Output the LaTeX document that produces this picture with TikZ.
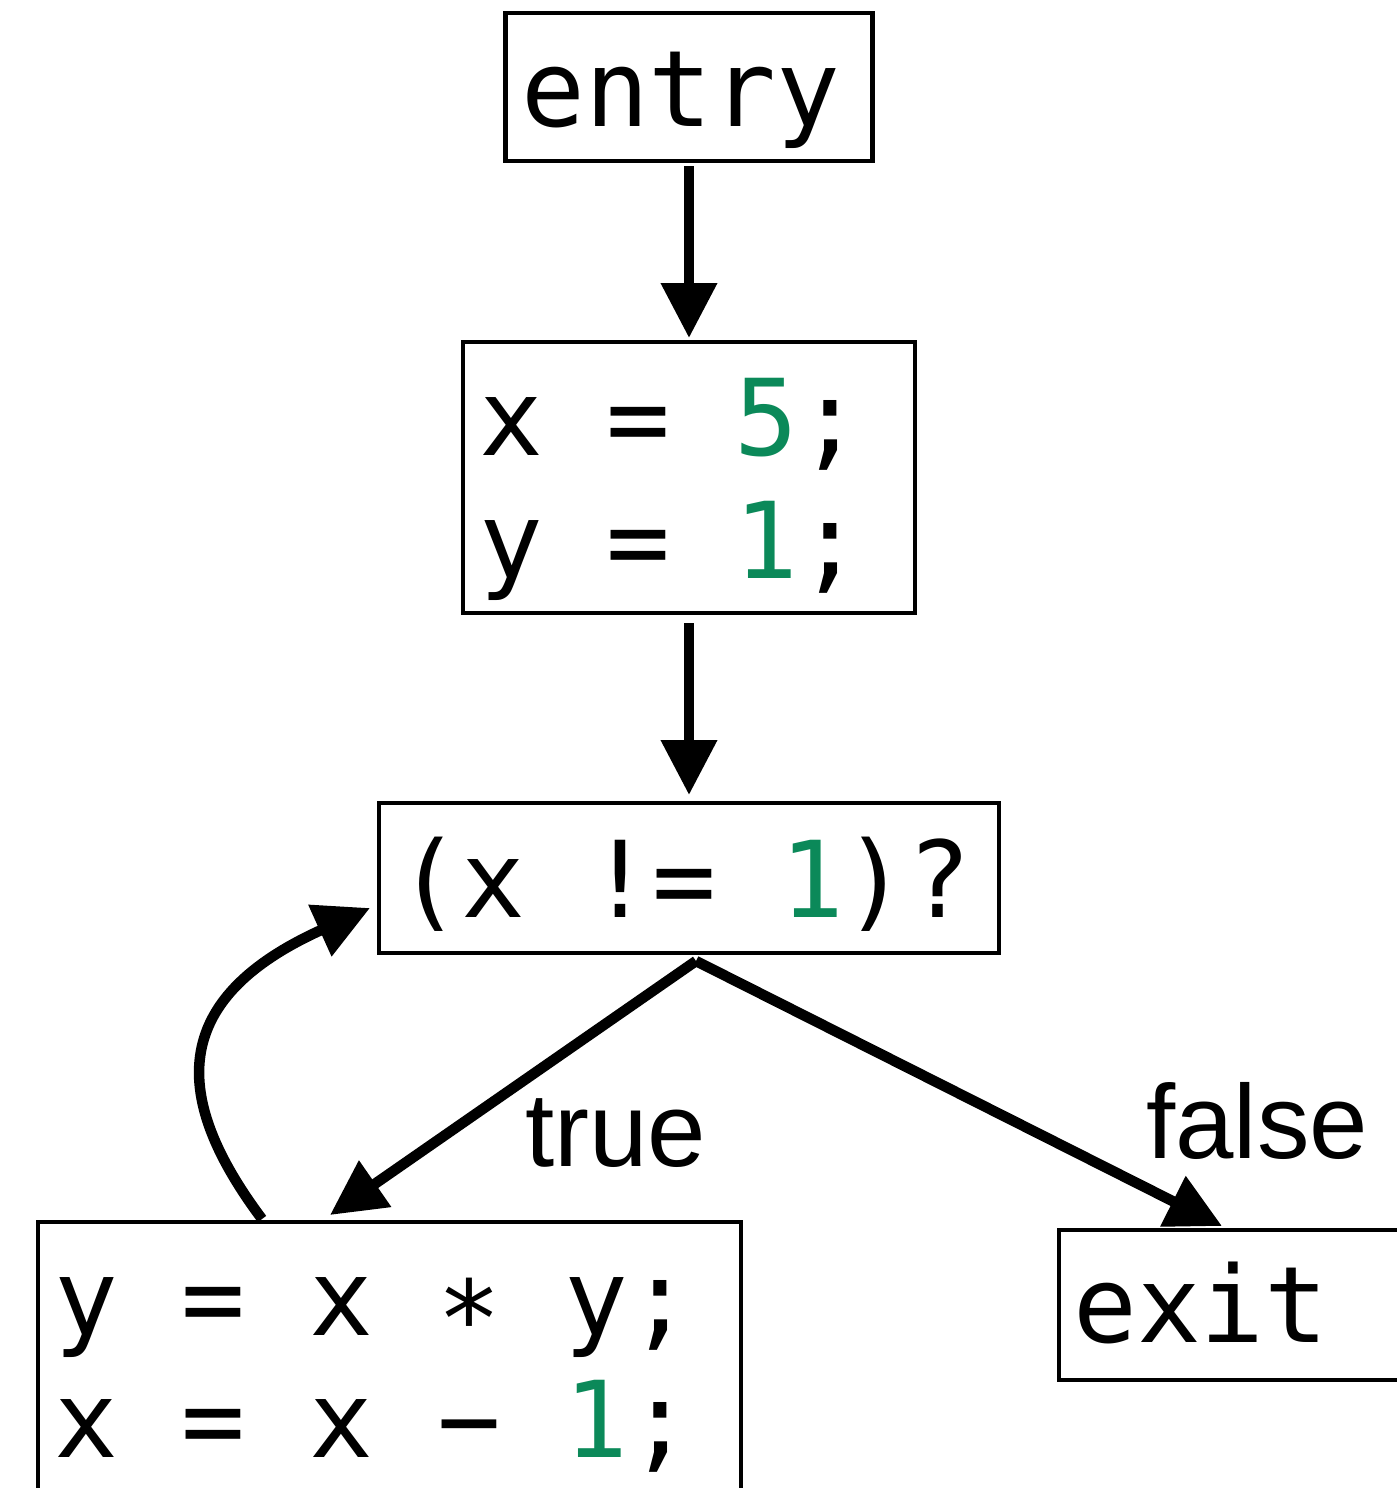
\documentclass[tikz,border=0pt]{standalone}
\usepackage{fontspec}
\setmainfont{Liberation Sans}
\newfontfamily\codefont{DejaVu Sans Mono}
\usetikzlibrary{arrows.meta}
\definecolor{codegreen}{RGB}{11,137,89}
\newcommand{\gr}[1]{\textcolor{codegreen}{#1}}
\begin{document}
\begin{tikzpicture}[x=1pt,y=-1pt,
  box/.style={draw, line width=4.5pt, inner sep=0pt, outer sep=0pt},
  code/.style={font=\codefont\fontsize{106}{123}\selectfont, inner sep=0pt, anchor=base west},
  lbl/.style={font=\fontsize{105}{120}\selectfont, inner sep=0pt, anchor=base west},
  flow/.style={line width=10.5pt, -{Triangle[length=55pt,width=54pt]}}]
\clip (0,0) rectangle (1397,1488);
\useasboundingbox (0,0) rectangle (1397,1488);
% boxes
\node[box, minimum width=367pt, minimum height=148pt] (entry) at (689,87) {};
\node[box, minimum width=452pt, minimum height=271pt] (assign) at (689,477.5) {};
\node[box, minimum width=620pt, minimum height=150pt] (cond) at (689,878) {};
\node[box, minimum width=703pt, minimum height=308pt] (body) at (389.5,1376) {};
\node[box, minimum width=371pt, minimum height=150pt] (exit) at (1244.5,1305) {};
% texts
\node[code] (t1) at (521,126) {entry};
\node[code] (t2) at (479,455) {x = \gr{5};};
\node[code] (t3) at (479,578) {y = \gr{1};};
\node[code] (t4) at (397,917) {(x != \gr{1})?};
\node[code] (t5) at (54,1335) {y = x ∗ y;};
\node[code] (t6) at (54,1457) {x = x − \gr{1};};
\node[code] (t7) at (1073,1342) {exit};
% connectors
\coordinate (split) at ([xshift=7pt,yshift=-8pt]cond.south);
\coordinate (loopstart) at ([xshift=224pt,yshift=3pt]body.north west);
\coordinate (loopend) at ([xshift=-9pt,yshift=-30pt]cond.west);
\draw[flow] ([yshift=-5pt]entry.south) -- ([yshift=4pt]assign.north);
\draw[flow] ([yshift=-10pt]assign.south) -- ([yshift=8pt]cond.north);
\draw[flow] (split) -- ([xshift=-59.5pt,yshift=7pt]body.north);
\draw[flow] (split) -- ([xshift=-22.5pt,yshift=4pt]exit.north);
\draw[flow] (loopstart) .. controls (173,1100) and (166,1000) .. (loopend);
% labels
\node[lbl] (ltrue) at (525,1166) {true};
\node[lbl] (lfalse) at (1146,1158) {false};
\end{tikzpicture}
\end{document}
